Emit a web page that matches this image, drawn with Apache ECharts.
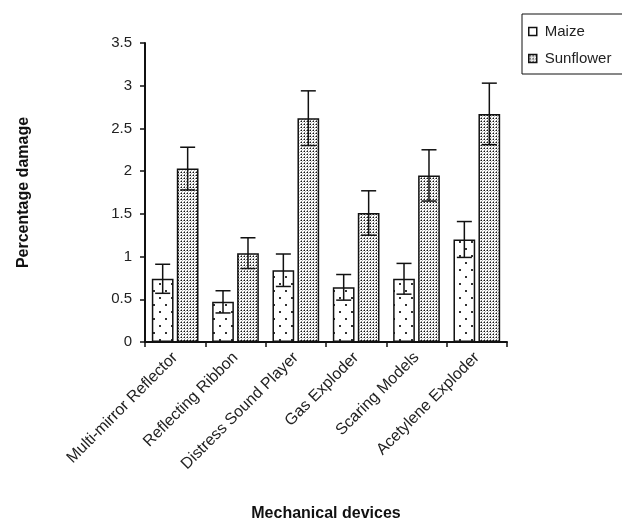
<!DOCTYPE html>
<html><head><meta charset="utf-8">
<script src="https://cdn.jsdelivr.net/npm/echarts@6/dist/echarts.min.js"></script>
<style>html,body{margin:0;padding:0;background:#fff}#c{width:622px;height:521px}</style>
</head><body><div id="c"></div>
<script>
var categories = ['Multi-mirror Reflector','Reflecting Ribbon','Distress Sound Player','Gas Exploder','Scaring Models','Acetylene Exploder'];
var maize = [0.74, 0.47, 0.84, 0.64, 0.74, 1.20];
var maizeErr = [0.17, 0.13, 0.19, 0.15, 0.18, 0.21];
var sunflower = [2.03, 1.04, 2.62, 1.51, 1.95, 2.67];
var sunflowerErr = [0.25, 0.18, 0.32, 0.26, 0.30, 0.36];
var yTicks = { min: 0, max: 3.5, interval: 0.5 };

function makePattern(w, h, dots) {
  var c = document.createElement('canvas');
  c.width = w; c.height = h;
  var g = c.getContext('2d');
  g.fillStyle = '#ffffff'; g.fillRect(0, 0, w, h);
  dots.forEach(function (d) { g.fillStyle = d[4]; g.fillRect(d[0], d[1], d[2], d[3]); });
  return c;
}
var maizePat = makePattern(12, 14, [[3, 3, 2, 2, '#333'], [9, 10, 2, 2, '#333']]);
var sunPat = makePattern(3, 3, [[1, 1, 1, 1, '#111'], [0, 1, 1, 1, '#888'], [1, 0, 1, 1, '#888'], [2, 2, 1, 1, '#bbb']]);

var barW = 0.36, gap = 0.15;
var off = (barW + barW * gap) / 2;

function errSeries(vals, errs, sign) {
  return {
    type: 'custom',
    z: 10,
    silent: true,
    data: vals.map(function (v, i) { return [i, v - errs[i], v + errs[i]]; }),
    renderItem: function (params, api) {
      var w = api.size([1, 0])[0];
      var lo = api.coord([api.value(0), api.value(1)]);
      var hi = api.coord([api.value(0), api.value(2)]);
      var x = lo[0] + sign * off * w;
      var cap = 7.5;
      var st = { stroke: '#111', lineWidth: 1.5 };
      return { type: 'group', children: [
        { type: 'line', shape: { x1: x, y1: lo[1], x2: x, y2: hi[1] }, style: st },
        { type: 'line', shape: { x1: x - cap, y1: lo[1], x2: x + cap, y2: lo[1] }, style: st },
        { type: 'line', shape: { x1: x - cap, y1: hi[1], x2: x + cap, y2: hi[1] }, style: st }
      ]};
    }
  };
}

var font = '"Liberation Sans", Arial, sans-serif';
var chart = echarts.init(document.getElementById('c'));
chart.setOption({
  animation: false,
  backgroundColor: '#ffffff',
  grid: { left: 145, right: 115, top: 43, bottom: 179, containLabel: false, outerBoundsMode: 'none' },
  legend: {
    orient: 'vertical', left: 522, top: 14,
    padding: [10, 40, 8, 6], itemGap: 12,
    itemWidth: 8, itemHeight: 8,
    borderColor: '#111', borderWidth: 1,
    textStyle: { fontFamily: font, fontSize: 15, color: '#222', padding: [0, 0, 0, 3] },
    data: [
      { name: 'Maize', icon: 'rect', itemStyle: { color: '#ffffff', borderColor: '#111', borderWidth: 1.5 } },
      { name: 'Sunflower', icon: 'rect', itemStyle: { borderColor: '#111', borderWidth: 1.5 } }
    ]
  },
  xAxis: {
    type: 'category', data: categories,
    name: 'Mechanical devices', nameLocation: 'middle', nameGap: 164,
    nameTextStyle: { fontFamily: font, fontSize: 16, fontWeight: 'bold', color: '#111' },
    axisLine: { lineStyle: { color: '#111', width: 2 } },
    axisTick: { show: true, length: 5, lineStyle: { color: '#111', width: 1.5 } },
    axisLabel: { rotate: 45, fontFamily: font, fontSize: 16, color: '#222', margin: 13, interval: 0 }
  },
  yAxis: {
    type: 'value', min: yTicks.min, max: yTicks.max, interval: yTicks.interval,
    name: 'Percentage damage', nameLocation: 'middle', nameGap: 113,
    nameTextStyle: { fontFamily: font, fontSize: 16, fontWeight: 'bold', color: '#111' },
    splitLine: { show: false },
    axisLine: { show: true, lineStyle: { color: '#111', width: 2 } },
    axisTick: { show: true, length: 5, lineStyle: { color: '#111', width: 1.5 } },
    axisLabel: { fontFamily: font, fontSize: 15, color: '#222', margin: 13 }
  },
  series: [
    { name: 'Maize', type: 'bar', data: maize, barWidth: (barW * 100) + '%', barGap: (gap * 100) + '%',
      itemStyle: { color: { image: maizePat, repeat: 'repeat' }, borderColor: '#111', borderWidth: 1.5 } },
    { name: 'Sunflower', type: 'bar', data: sunflower, barWidth: (barW * 100) + '%',
      itemStyle: { color: { image: sunPat, repeat: 'repeat' }, borderColor: '#111', borderWidth: 1.5 } },
    errSeries(maize, maizeErr, -1),
    errSeries(sunflower, sunflowerErr, 1)
  ]
});
</script></body></html>
